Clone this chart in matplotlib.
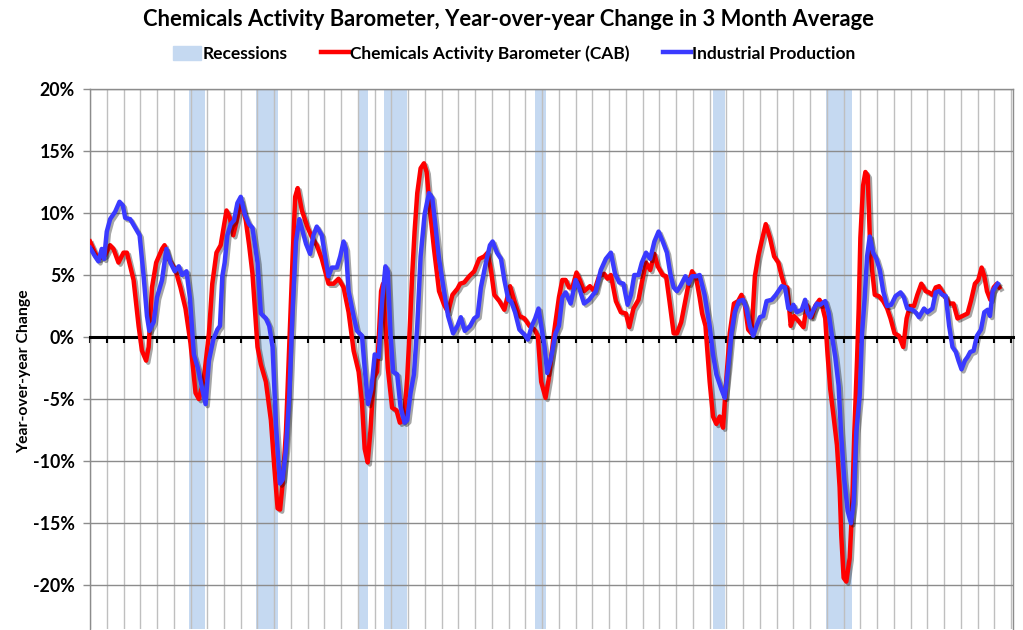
import matplotlib
matplotlib.use("Agg")
import matplotlib.pyplot as plt
import matplotlib.patheffects as pe
from matplotlib.patches import Patch
from matplotlib.lines import Line2D
from matplotlib.ticker import FuncFormatter

plt.rcParams['font.family'] = ['Lato', 'DejaVu Sans']
plt.rcParams['font.weight'] = 'bold'
plt.rcParams['axes.unicode_minus'] = False

# recession periods (start, end) in decimal years
rec_start = [1969.92, 1973.92, 1980.0, 1981.54, 1990.58, 2001.17, 2007.94]
rec_end = [1970.88, 1975.25, 1980.6, 1982.9, 1991.25, 2001.9, 2009.5]

# Chemicals Activity Barometer, yoy change in 3 month avg (%)
cab_t = [1964.0, 1964.3, 1964.5, 1964.9, 1965.2, 1965.4, 1965.7, 1966.0, 1966.2, 1966.6,
         1966.9, 1967.1, 1967.35, 1967.5, 1967.7, 1967.95, 1968.3, 1968.45, 1968.7, 1969.1,
         1969.4, 1969.7, 1970.0, 1970.3, 1970.5, 1970.8, 1971.1, 1971.3, 1971.55, 1971.8,
         1972.15, 1972.35, 1972.55, 1972.8, 1973.0, 1973.3, 1973.5, 1973.7, 1974.0, 1974.2,
         1974.5, 1974.8, 1975.0, 1975.2, 1975.35, 1975.5, 1975.7, 1975.9, 1976.1, 1976.25,
         1976.4, 1976.65, 1977.0, 1977.3, 1977.54, 1977.84, 1978.24, 1978.54, 1978.84, 1979.14,
         1979.44, 1979.74, 1980.04, 1980.24, 1980.4, 1980.58, 1980.74, 1980.94, 1981.14, 1981.38,
         1981.5, 1981.78, 1982.04, 1982.3, 1982.5, 1982.74, 1982.94, 1983.1, 1983.24, 1983.38,
         1983.54, 1983.74, 1983.94, 1984.1, 1984.3, 1984.54, 1984.84, 1985.14, 1985.38, 1985.64,
         1985.94, 1986.1, 1986.34, 1986.64, 1986.94, 1987.24, 1987.54, 1987.74, 1987.94, 1988.14,
         1988.44, 1988.74, 1989.08, 1989.34, 1989.64, 1989.94, 1990.24, 1990.54, 1990.74, 1990.94,
         1991.2, 1991.4, 1991.7, 1992.0, 1992.2, 1992.4, 1992.6, 1992.8, 1993.05, 1993.25,
         1993.5, 1993.85, 1994.1, 1994.4, 1994.7, 1994.9, 1995.1, 1995.4, 1995.7, 1996.0,
         1996.2, 1996.45, 1996.75, 1996.95, 1997.2, 1997.45, 1997.7, 1997.9, 1998.2, 1998.4,
         1998.6, 1998.85, 1999.05, 1999.3, 1999.5, 1999.7, 1999.95, 2000.2, 2000.4, 2000.55,
         2000.75, 2001.0, 2001.2, 2001.4, 2001.6, 2001.8, 2002.0, 2002.2, 2002.45, 2002.7,
         2002.9, 2003.1, 2003.3, 2003.5, 2003.7, 2003.9, 2004.1, 2004.35, 2004.6, 2004.85,
         2005.1, 2005.3, 2005.5, 2005.64, 2005.84, 2006.04, 2006.3, 2006.6, 2006.8, 2007.1,
         2007.3, 2007.56, 2007.7, 2007.9, 2008.04, 2008.2, 2008.4, 2008.6, 2008.76, 2008.86,
         2009.0, 2009.16, 2009.36, 2009.5, 2009.64, 2009.8, 2009.9, 2010.0, 2010.16, 2010.3,
         2010.44, 2010.56, 2010.7, 2010.86, 2011.1, 2011.36, 2011.6, 2011.8, 2012.04, 2012.3,
         2012.56, 2012.76, 2012.96, 2013.2, 2013.4, 2013.64, 2013.9, 2014.1, 2014.3, 2014.5,
         2014.7, 2015.0, 2015.3, 2015.56, 2015.8, 2016.1, 2016.4, 2016.6, 2016.84, 2017.04,
         2017.24, 2017.4, 2017.56, 2017.76, 2017.96, 2018.16, 2018.3]
cab_v = [7.7, 6.8, 6.3, 6.6, 7.4, 7.1, 6.0, 6.8, 6.8, 4.6,
         0.9, -1.1, -1.9, -0.8, 4.0, 6.0, 7.1, 7.4, 6.3, 5.4,
         4.0, 2.3, -0.5, -4.5, -5.0, -3.3, 0.3, 4.3, 6.8, 7.4,
         10.2, 9.6, 8.2, 9.6, 11.0, 9.4, 7.4, 5.1, -0.8, -2.2,
         -3.6, -6.7, -10.4, -13.8, -13.9, -11.8, -7.6, -0.5, 6.5, 11.3,
         12.0, 10.2, 8.8, 7.9, 7.4, 6.3, 4.3, 4.3, 4.7, 4.0,
         2.0, -1.1, -2.8, -5.3, -9.0, -10.1, -7.6, -3.3, -2.8, 3.7,
         4.3, -2.5, -5.7, -5.9, -6.9, -6.7, -3.3, 0.9, 5.1, 8.5,
         11.6, 13.6, 14.0, 13.3, 10.2, 7.1, 3.7, 2.6, 2.0, 3.4,
         3.9, 4.3, 4.4, 4.9, 5.3, 6.3, 6.5, 6.8, 5.4, 3.4,
         2.9, 2.2, 4.1, 2.9, 1.7, 1.5, 0.9, 0.6, 0.1, -3.6,
         -4.9, -3.3, 0.3, 3.2, 4.6, 4.6, 4.0, 4.0, 5.2, 4.6,
         3.7, 4.1, 3.7, 4.9, 5.1, 4.7, 5.0, 2.9, 2.0, 1.9,
         0.8, 2.3, 3.0, 4.4, 6.0, 5.4, 6.7, 5.7, 5.0, 4.9,
         2.9, 0.3, 0.3, 1.2, 2.6, 4.0, 5.3, 4.7, 3.2, 1.9,
         0.9, -3.6, -6.4, -7.0, -6.4, -7.3, -3.3, 0.3, 2.7, 2.9,
         3.4, 2.6, 0.6, 0.3, 4.9, 6.5, 7.7, 9.1, 8.0, 6.5,
         6.0, 4.9, 4.0, 4.0, 0.9, 1.7, 1.3, 0.8, 2.6, 1.6,
         2.5, 3.0, 2.6, 1.5, -1.4, -4.2, -6.4, -8.7, -12.1, -16.0,
         -19.4, -19.7, -17.8, -14.0, -7.6, -1.9, 2.3, 8.0, 12.2, 13.3,
         13.0, 8.2, 5.4, 3.4, 3.3, 2.9, 2.3, 1.5, 0.3, 0.1,
         -0.8, 1.5, 2.5, 2.5, 3.4, 4.3, 3.7, 3.6, 3.4, 4.0,
         4.1, 3.4, 2.7, 2.7, 1.5, 1.7, 1.9, 2.9, 4.3, 4.6,
         5.6, 4.9, 3.7, 3.0, 4.0, 4.3, 4.0]

# Industrial Production, yoy change in 3 month avg (%)
ip_t = [1964.0, 1964.3, 1964.5, 1964.7, 1964.84, 1965.0, 1965.2, 1965.5, 1965.76, 1965.96,
        1966.1, 1966.4, 1966.7, 1966.96, 1967.2, 1967.4, 1967.54, 1967.8, 1968.0, 1968.3,
        1968.56, 1968.8, 1969.06, 1969.3, 1969.5, 1969.76, 1969.96, 1970.2, 1970.44, 1970.7,
        1970.9, 1971.1, 1971.36, 1971.6, 1971.76, 1971.9, 1972.04, 1972.2, 1972.4, 1972.6,
        1972.8, 1973.0, 1973.24, 1973.5, 1973.7, 1974.0, 1974.2, 1974.5, 1974.7, 1974.9,
        1975.1, 1975.34, 1975.5, 1975.7, 1975.9, 1976.1, 1976.3, 1976.5, 1976.7, 1976.9,
        1977.14, 1977.34, 1977.54, 1977.84, 1978.04, 1978.24, 1978.44, 1978.74, 1978.94, 1979.14,
        1979.28, 1979.44, 1979.74, 1979.94, 1980.24, 1980.4, 1980.6, 1980.8, 1981.0, 1981.24,
        1981.44, 1981.64, 1981.78, 1981.94, 1982.1, 1982.34, 1982.54, 1982.78, 1982.94, 1983.14,
        1983.34, 1983.54, 1983.74, 1983.98, 1984.24, 1984.44, 1984.64, 1984.84, 1985.14, 1985.38,
        1985.68, 1985.94, 1986.14, 1986.38, 1986.7, 1986.94, 1987.14, 1987.34, 1987.64, 1987.88,
        1988.04, 1988.3, 1988.54, 1988.74, 1988.98, 1989.14, 1989.38, 1989.64, 1989.94, 1990.14,
        1990.38, 1990.58, 1990.78, 1990.94, 1991.14, 1991.3, 1991.5, 1991.8, 1992.0, 1992.2,
        1992.4, 1992.7, 1993.0, 1993.2, 1993.5, 1993.8, 1994.2, 1994.5, 1994.8, 1995.1,
        1995.35, 1995.6, 1995.85, 1996.1, 1996.3, 1996.5, 1996.75, 1996.95, 1997.2, 1997.45,
        1997.7, 1997.95, 1998.2, 1998.45, 1998.65, 1998.85, 1999.05, 1999.25, 1999.55, 1999.75,
        1999.95, 2000.2, 2000.4, 2000.7, 2001.0, 2001.2, 2001.4, 2001.7, 2001.9, 2002.1,
        2002.3, 2002.5, 2002.75, 2003.0, 2003.2, 2003.4, 2003.6, 2003.8, 2004.0, 2004.2,
        2004.4, 2004.7, 2004.95, 2005.15, 2005.3, 2005.5, 2005.7, 2005.84, 2006.0, 2006.2,
        2006.5, 2006.7, 2006.84, 2007.0, 2007.2, 2007.4, 2007.6, 2007.9, 2008.1, 2008.3,
        2008.5, 2008.7, 2008.84, 2009.04, 2009.24, 2009.44, 2009.6, 2009.76, 2009.96, 2010.1,
        2010.26, 2010.4, 2010.56, 2010.76, 2010.96, 2011.16, 2011.36, 2011.6, 2011.84, 2012.1,
        2012.4, 2012.6, 2012.8, 2013.1, 2013.3, 2013.5, 2013.8, 2014.0, 2014.3, 2014.5,
        2014.7, 2014.9, 2015.1, 2015.3, 2015.5, 2015.7, 2015.86, 2016.04, 2016.24, 2016.4,
        2016.56, 2016.76, 2016.96, 2017.2, 2017.4, 2017.6, 2017.74, 2017.9, 2018.04, 2018.2]
ip_v = [7.2, 6.5, 6.1, 7.1, 6.3, 8.5, 9.5, 10.1, 10.9, 10.6,
        9.6, 9.5, 8.8, 8.2, 4.9, 1.7, 0.5, 1.2, 3.2, 4.6,
        7.1, 6.0, 5.3, 5.7, 5.0, 5.3, 3.2, -1.4, -2.5, -4.2,
        -5.4, -1.9, -0.2, 0.6, 0.9, 4.9, 6.0, 8.2, 9.1, 9.4,
        10.8, 11.3, 9.9, 9.1, 8.8, 6.0, 1.9, 1.5, 0.9, -0.8,
        -7.0, -11.8, -11.5, -9.0, -4.7, 2.3, 7.7, 9.5, 8.5, 7.5,
        6.7, 8.2, 8.9, 8.2, 6.5, 4.9, 5.6, 5.6, 6.5, 7.7,
        7.1, 3.7, 1.7, 0.5, 0.1, -2.5, -5.4, -4.2, -1.4, -1.6,
        2.9, 5.7, 5.3, 0.3, -2.8, -3.0, -5.6, -6.9, -6.7, -4.5,
        -3.0, 0.9, 6.5, 9.9, 11.6, 11.2, 8.8, 6.3, 3.7, 1.7,
        0.3, 0.9, 1.6, 0.5, 0.9, 1.5, 1.7, 4.0, 6.0, 7.4,
        7.7, 6.8, 6.3, 4.6, 3.0, 2.9, 2.0, 0.6, 0.2, -0.2,
        0.9, 1.5, 2.3, 0.9, -0.8, -2.9, -1.9, 0.3, 0.9, 3.2,
        3.6, 2.7, 4.6, 4.0, 2.7, 3.0, 3.7, 5.4, 6.3, 6.8,
        5.1, 4.4, 4.3, 2.6, 3.4, 5.0, 5.0, 6.0, 6.8, 6.3,
        7.7, 8.5, 7.7, 6.8, 5.1, 4.0, 3.7, 4.1, 4.9, 4.3,
        4.9, 4.9, 5.0, 3.4, 0.9, -1.4, -3.0, -4.2, -4.9, -2.5,
        0.3, 2.0, 2.9, 3.0, 2.3, 0.9, 0.1, 0.9, 1.6, 1.7,
        2.9, 3.0, 3.4, 3.8, 4.1, 4.0, 2.3, 2.2, 2.6, 2.0,
        2.2, 3.0, 2.0, 1.6, 2.2, 2.7, 2.6, 2.9, 2.0, 0.1,
        -1.6, -3.9, -7.6, -11.5, -14.0, -15.0, -13.3, -7.6, -4.7, 0.3,
        3.2, 6.5, 8.1, 6.8, 6.3, 5.4, 3.7, 2.5, 2.6, 3.3,
        3.6, 3.2, 2.3, 2.2, 2.0, 1.6, 2.3, 2.0, 2.3, 3.6,
        3.7, 3.4, 3.3, 0.9, -0.8, -1.2, -1.9, -2.6, -1.9, -1.6,
        -1.2, -1.1, 0.1, 0.6, 2.0, 2.2, 1.7, 3.7, 4.0, 4.3]

rec_color = '#C5D9F1'
cab_color = '#FF0000'
ip_color = '#3A3AFF'

fig = plt.figure(figsize=(10.23, 6.30), dpi=100)
ax = fig.add_axes([0.088, 0.002, 0.902, 0.857])

for s, e in zip(rec_start, rec_end):
    ax.axvspan(s, e, color=rec_color, zorder=0, lw=0)

shadow = [pe.SimpleLineShadow(offset=(1.5, -1.5), alpha=0.35, shadow_color='black'), pe.Normal()]
ax.plot(cab_t, cab_v, color=cab_color, lw=3.2, zorder=3, path_effects=shadow, solid_joinstyle='round')
ax.plot(ip_t, ip_v, color=ip_color, lw=3.2, zorder=4, path_effects=shadow, solid_joinstyle='round')

ax.set_xlim(1964.0, 2019.1)
ax.set_ylim(-23.5, 20)
ax.set_yticks(range(-20, 21, 5))
ax.yaxis.set_major_formatter(FuncFormatter(lambda v, p: '%d%%' % v))
ax.set_xticks(range(1964, 2020))
ax.set_xticklabels([])

ax.set_axisbelow(True)
ax.grid(axis='x', color='#BFBFBF', lw=1.0, zorder=0.5)
ax.grid(axis='y', color='#8C8C8C', lw=1.0, zorder=0.5)

ax.spines['bottom'].set_position(('data', 0))
ax.spines['bottom'].set_color('black')
ax.spines['bottom'].set_linewidth(2.2)
ax.spines['bottom'].set_zorder(2.5)
for side in ['left', 'top', 'right']:
    ax.spines[side].set_color('#8C8C8C')
    ax.spines[side].set_linewidth(1.0)
ax.tick_params(axis='x', direction='out', length=4, width=1.5, color='black')
ax.tick_params(axis='y', length=5, width=1.0, color='#8C8C8C', labelsize=12.8, pad=6)
for lab in ax.get_yticklabels():
    lab.set_fontweight('bold')

ax.set_ylabel('Year-over-year Change', fontsize=11.3, fontweight='bold')
ax.yaxis.set_label_coords(-0.064, 0.477)

fig.suptitle('Chemicals Activity Barometer, Year-over-year Change in 3 Month Average',
             fontsize=15.8, fontweight='bold', x=0.497, y=0.985)

handles = [Patch(color=rec_color),
           Line2D([], [], color=cab_color, lw=3.2),
           Line2D([], [], color=ip_color, lw=3.2)]
labels = ['Recessions', 'Chemicals Activity Barometer (CAB)', 'Industrial Production']
fig.legend(handles, labels, loc='center', bbox_to_anchor=(0.503, 0.915), ncol=3, frameon=False,
           prop={'size': 12.5, 'weight': 'bold'}, handlelength=1.6, handletextpad=0.1,
           columnspacing=1.9, handleheight=0.9)

fig.savefig('out.png', dpi=100)
